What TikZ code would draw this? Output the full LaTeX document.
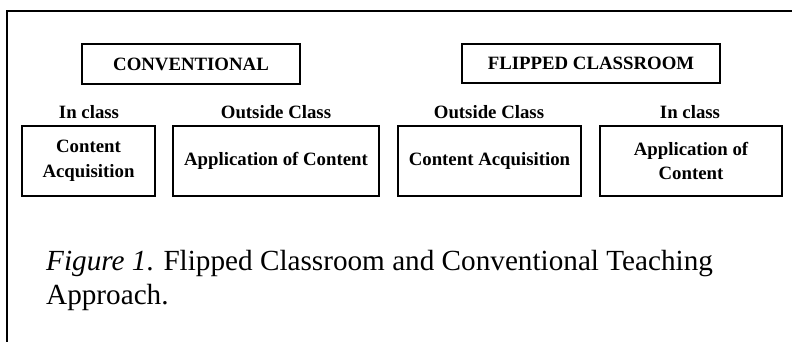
\documentclass[tikz,border=0pt]{standalone}
\usepackage{fontspec}
\setmainfont{Liberation Serif}
\begin{document}
\begin{tikzpicture}[x=1pt,y=-1pt,
  box/.style={draw, line width=1.3pt, inner sep=0pt, align=center,
    font=\bfseries\fontsize{18.8}{24.5}\selectfont},
  lab/.style={anchor=base, inner sep=0pt, font=\bfseries\fontsize{18.8}{22}\selectfont},
  captext/.style={anchor=base west, inner sep=0pt, font=\fontsize{29.2}{34}\selectfont},
  frame/.style={line width=1.4pt}]
\useasboundingbox (0,0) rectangle (792,341);
\coordinate (tl) at (7,11);
\coordinate (tr) at (793,11);
\coordinate (bl) at (7,342);
\draw[frame] (tr) -- (tl) -- (bl);
\node[box, minimum width=218pt, minimum height=40pt] (conv) at (191,64) {CONVENTIONAL};
\node[box, minimum width=258pt, minimum height=39pt] (flip) at (591,63.5) {FLIPPED CLASSROOM};
\node[lab] (l1) at (89,118) {In class};
\node[lab] (l2) at (276,118) {Outside Class};
\node[lab] (l3) at (489,118) {Outside Class};
\node[lab] (l4) at (690,118) {In class};
\node[box, minimum width=133pt, minimum height=70pt] (b1) at (88.5,161) {Content\\Acquisition};
\node[box, minimum width=206pt, minimum height=70pt] (b2) at (276,161) {Application of Content};
\node[box, minimum width=183pt, minimum height=70pt] (b3) at (489.5,161) {Content Acquisition};
\node[box, minimum width=182pt, minimum height=70pt] (b4) at (691,161) {Application of\\Content};
\node[captext] (c1) at (46,270) {\textit{Figure 1}. Flipped Classroom and Conventional Teaching};
\node[captext] (c2) at (46,304) {Approach.};
\end{tikzpicture}
\end{document}
